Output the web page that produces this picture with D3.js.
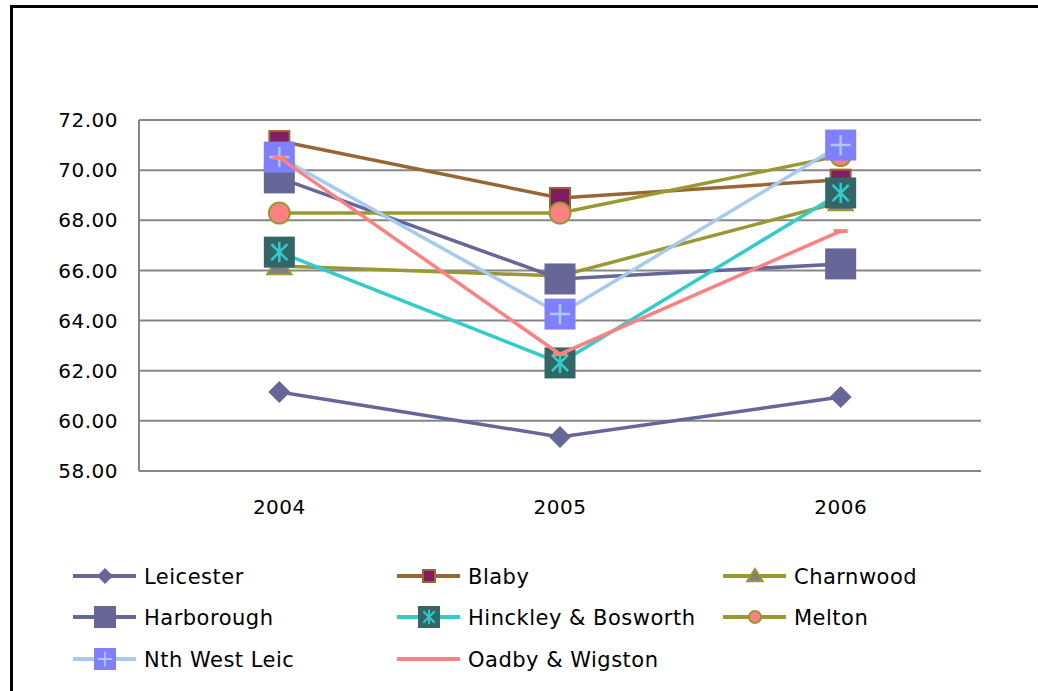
<!DOCTYPE html>
<html>
<head>
<meta charset="utf-8">
<script src="https://cdn.jsdelivr.net/npm/d3@7"></script>
<style>
  body { margin: 0; background: #fff; }
  svg text { font-family: 'DejaVu Sans', sans-serif; fill: #000; }
</style>
</head>
<body>
<svg id="chart" width="1038" height="691"></svg>
<script>
const years = ['2004', '2005', '2006']
const yTicks = [58, 60, 62, 64, 66, 68, 70, 72]

const leicester = [61.15, 59.36, 60.95]
const blaby = [71.16, 68.89, 69.62]
const charnwood = [66.18, 65.78, 68.73]
const harborough = [69.69, 65.66, 66.26]
const hinckley = [66.73, 62.31, 69.09]
const melton = [68.29, 68.29, 70.58]
const nwLeic = [70.52, 64.26, 71.0]
const oadby = [70.5, 62.66, 67.57]

const series = [
    {name: 'Leicester', values: leicester, line: '#666699', marker: 'diamond', fill: '#666699'},
    {name: 'Blaby', values: blaby, line: '#996633', marker: 'square', fill: '#7f1f5f', stroke: '#996633'},
    {name: 'Charnwood', values: charnwood, line: '#999933', marker: 'triangle', fill: '#808080', stroke: '#999933'},
    {name: 'Harborough', values: harborough, line: '#666699', marker: 'bigsquare', fill: '#666699'},
    {name: 'Hinckley & Bosworth', values: hinckley, line: '#33cccc', marker: 'star', fill: '#336666', mark: '#33cccc'},
    {name: 'Melton', values: melton, line: '#999933', marker: 'circle', fill: '#ff8080', stroke: '#999933'},
    {name: 'Nth West Leic', values: nwLeic, line: '#a6caf0', marker: 'plus', fill: '#8080ff', mark: '#a6caf0'},
    {name: 'Oadby & Wigston', values: oadby, line: '#ff8080', marker: 'dash', fill: '#ff8080'}
]

const svg = d3.select('#chart')
const plot = {left: 139, right: 981, top: 120, bottom: 471}

// outer frame
svg.append('path')
    .attr('d', `M11.5,691 V6.5 H1040`)
    .attr('fill', 'none')
    .attr('stroke', '#000')
    .attr('stroke-width', 3)
svg.append('text')
    .attr('x', 10).attr('y', -4)
    .style('font-size', '20px')
    .text('g')

const x = d3.scaleBand()
    .domain(years)
    .range([plot.left, plot.right])
const y = d3.scaleLinear()
    .domain([58, 72])
    .range([plot.bottom, plot.top])

// gridlines
svg.append('g')
    .selectAll('line')
    .data(yTicks)
    .join('line')
    .attr('x1', plot.left).attr('x2', plot.right)
    .attr('y1', d => y(d)).attr('y2', d => y(d))
    .attr('stroke', '#868686')
    .attr('stroke-width', 2)

svg.append('line')
    .attr('x1', plot.left).attr('x2', plot.left)
    .attr('y1', plot.top).attr('y2', plot.bottom)
    .attr('stroke', '#868686')
    .attr('stroke-width', 2)

// y labels
svg.append('g')
    .selectAll('text')
    .data(yTicks)
    .join('text')
    .attr('x', 118)
    .attr('y', d => y(d))
    .attr('dy', '0.36em')
    .attr('text-anchor', 'end')
    .style('font-size', '20px')
    .style('letter-spacing', '0.5px')
    .text(d => d.toFixed(2))

// x labels
svg.append('g')
    .selectAll('text')
    .data(years)
    .join('text')
    .attr('x', d => x(d) + x.bandwidth() / 2)
    .attr('y', 514)
    .attr('text-anchor', 'middle')
    .style('font-size', '20px')
    .style('letter-spacing', '0.5px')
    .text(d => d)

function drawMarker(g, s, cx, cy, small) {
    const k = small ? 0.7 : 1
    if (s.marker == 'diamond') {
        const r = small ? 8 : 11
        g.append('path')
            .attr('d', `M${cx},${cy - r} L${cx + r},${cy} L${cx},${cy + r} L${cx - r},${cy} Z`)
            .attr('fill', s.fill)
    } else if (s.marker == 'square') {
        const h = small ? 6 : 10
        g.append('rect')
            .attr('x', cx - h).attr('y', cy - h)
            .attr('width', h * 2).attr('height', h * 2)
            .attr('fill', s.fill)
            .attr('stroke', s.stroke).attr('stroke-width', 2)
    } else if (s.marker == 'triangle') {
        const h = small ? 7 : 11
        g.append('path')
            .attr('d', `M${cx},${cy - h} L${cx + h * 1.1},${cy + h * 0.75} L${cx - h * 1.1},${cy + h * 0.75} Z`)
            .attr('fill', s.fill)
            .attr('stroke', s.stroke).attr('stroke-width', 2)
    } else if (s.marker == 'circle') {
        g.append('circle')
            .attr('cx', cx).attr('cy', cy)
            .attr('r', small ? 6 : 10.5)
            .attr('fill', s.fill)
            .attr('stroke', s.stroke).attr('stroke-width', 2)
    } else if (s.marker == 'dash') {
        const w = small ? 5 : 7
        g.append('rect')
            .attr('x', cx - w).attr('y', cy - 2)
            .attr('width', w * 2).attr('height', 4)
            .attr('fill', s.fill)
    } else {
        const h = small ? 11 : 15.5
        g.append('rect')
            .attr('x', cx - h).attr('y', cy - h)
            .attr('width', h * 2).attr('height', h * 2)
            .attr('fill', s.fill)
        const a = h * 0.65
        if (s.marker == 'plus') {
            g.append('path')
                .attr('d', `M${cx - a},${cy} H${cx + a} M${cx},${cy - a} V${cy + a}`)
                .attr('stroke', s.mark).attr('stroke-width', 2 * k + 0.5)
        } else if (s.marker == 'star') {
            const d = a * 0.8
            g.append('path')
                .attr('d', `M${cx},${cy - a} V${cy + a} M${cx - d},${cy - d} L${cx + d},${cy + d} M${cx - d},${cy + d} L${cx + d},${cy - d}`)
                .attr('stroke', s.mark).attr('stroke-width', 2 * k + 0.5)
        }
    }
}

const line = d3.line()
    .x((d, i) => x(years[i]) + x.bandwidth() / 2)
    .y(d => y(d))

series.forEach(s => {
    const g = svg.append('g')
    g.append('path')
        .attr('d', line(s.values))
        .attr('fill', 'none')
        .attr('stroke', s.line)
        .attr('stroke-width', 3.5)
    s.values.forEach((v, i) => {
        drawMarker(g, s, x(years[i]) + x.bandwidth() / 2, y(v), false)
    })
})

// legend
const legendCols = [73, 397, 723]
const legendRows = [576, 617, 659]
series.forEach((s, i) => {
    const lx = legendCols[i % 3]
    const ly = legendRows[Math.floor(i / 3)]
    const g = svg.append('g')
    g.append('line')
        .attr('x1', lx).attr('x2', lx + 63)
        .attr('y1', ly).attr('y2', ly)
        .attr('stroke', s.line)
        .attr('stroke-width', 4)
    drawMarker(g, s, lx + 32, ly, true)
    g.append('text')
        .attr('x', lx + 71)
        .attr('y', ly)
        .attr('dy', '0.36em')
        .style('font-size', '21px')
        .style('letter-spacing', '0.5px')
        .text(s.name)
})
</script>
</body>
</html>
